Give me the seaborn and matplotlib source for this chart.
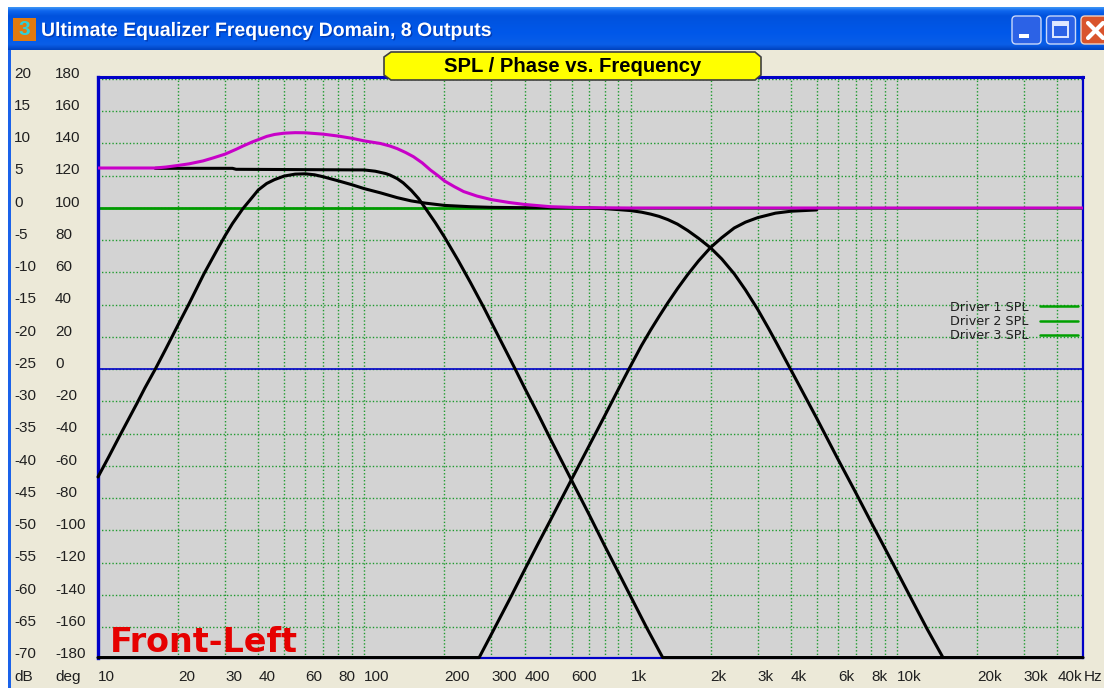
import matplotlib
matplotlib.use("Agg")
import matplotlib.pyplot as plt
import matplotlib.patheffects as pe
import numpy as np
import seaborn as sns
from matplotlib.colors import LinearSegmentedColormap
from matplotlib.lines import Line2D
from matplotlib.patches import FancyBboxPatch, Polygon, Rectangle
from matplotlib.transforms import blended_transform_factory

# values
db_ticks = [20, 15, 10, 5, 0, -5, -10, -15, -20, -25, -30, -35, -40, -45, -50, -55, -60, -65, -70]
deg_ticks = [180, 160, 140, 120, 100, 80, 60, 40, 20, 0, -20, -40, -60, -80, -100, -120, -140, -160, -180]

freq_labels = ["10", "20", "30", "40", "60", "80", "100", "200", "300", "400", "600",
               "1k", "2k", "3k", "4k", "6k", "8k", "10k", "20k", "30k", "40k"]
freq_label_pos = [10, 20, 30, 40, 60, 80, 100, 200, 300, 400, 600,
                  1000, 2000, 3000, 4000, 6000, 8000, 10000, 20000, 30000, 40000]
grid_freqs = [20, 30, 40, 50, 60, 70, 80, 90, 100, 200, 300, 400, 500, 600, 700, 800, 900,
              1000, 2000, 3000, 4000, 5000, 6000, 7000, 8000, 9000, 10000, 20000, 30000, 40000]

flat_freq = [10, 50000]
flat_db = [0, 0]

low_freq = [16.4, 32, 33, 100, 110, 120, 125, 133, 140, 150, 160, 170, 185, 200, 225, 250, 280, 320, 369,
            400, 450, 500, 600, 700, 800, 900, 1000, 1150, 1320, 50000]
low_db = [6.15, 6.15, 6.0, 5.9, 5.7, 5.35, 5.1, 4.55, 3.9, 2.75, 1.45, -0.1, -2.3, -4.5, -8.1, -11.5, -15.3, -20.0,
          -25, -27.9, -32, -35.8, -42.2, -47.6, -52.4, -56.5, -60.2, -65.1, -69.7, -69.7]

mid_freq = [10, 11, 12, 13, 14, 15, 16.4, 18, 20, 22, 25, 28, 30, 32, 35, 37, 40, 43, 46, 50, 55, 60, 65, 70,
            80, 90, 100, 115, 133, 150, 170, 200, 250, 300, 400, 700, 800, 900, 1000, 1100, 1190, 1280, 1380,
            1500, 1640, 1800, 2000, 2200, 2450, 2700, 3000, 3300, 3550, 4000, 5000, 6000, 7000, 8000, 9000,
            10000, 11600, 13000, 14900]
mid_db = [-41.7, -38.5, -35.5, -32.8, -30.3, -27.9, -25, -21.8, -18.1, -14.8, -10.2, -6.5, -4.3, -2.4, -0.1, 1.1,
          2.8, 3.8, 4.4, 4.95, 5.25, 5.3, 5.15, 4.85, 4.2, 3.6, 3.0, 2.35, 1.6, 1.1, 0.75, 0.4, 0.2, 0.1, 0.05,
          0, -0.1, -0.25, -0.4, -0.65, -0.95, -1.3, -1.8, -2.5, -3.5, -4.7, -6.2, -7.9, -10.2, -12.7, -15.7,
          -18.7, -21.1, -25.1, -32.6, -38.9, -44.1, -48.7, -52.7, -56.3, -61.4, -65.3, -69.7]

high_freq = [10, 270, 300, 350, 400, 450, 500, 600, 700, 800, 900, 985, 1100, 1190, 1280, 1380, 1500, 1640, 1800,
             2000, 2200, 2450, 2700, 3000, 3500, 4000, 5000]
high_db = [-69.7, -69.7, -66.1, -60.8, -56.1, -52, -48.4, -42.1, -36.8, -32.2, -28.1, -25, -21.3, -18.9, -16.8,
           -14.7, -12.5, -10.3, -8.2, -6.1, -4.6, -3.1, -2.2, -1.5, -0.8, -0.5, -0.3]

sum_freq = [10, 16.4, 18, 20, 22, 24.8, 27, 30, 33, 35, 38, 40, 43, 46, 50, 55, 60, 70, 80, 90, 100, 115, 125, 133,
            143, 153, 165, 177, 190, 200, 218, 236, 265, 300, 350, 400, 500, 600, 700, 1000, 50000]
sum_db = [6.2, 6.2, 6.35, 6.6, 6.85, 7.3, 7.75, 8.35, 9.1, 9.6, 10.25, 10.6, 11.1, 11.4, 11.6, 11.68, 11.66, 11.45,
          11.15, 10.8, 10.4, 10.0, 9.6, 9.2, 8.6, 7.95, 7.0, 5.9, 4.95, 4.2, 3.3, 2.55, 1.85, 1.3, 0.85, 0.55, 0.2,
          0.1, 0.05, 0, 0]

legend_labels = ["Driver 1 SPL", "Driver 2 SPL", "Driver 3 SPL"]

BEIGE = "#ece9d8"
GRID = "#1f9a2f"
BLUE = "#0000c8"
UI_FONT = ["Liberation Sans", "DejaVu Sans"]

sns.set_style("white")
plt.rcParams["font.family"] = UI_FONT

W, H = 1104, 688
fig = plt.figure(figsize=(W / 100, H / 100), dpi=100, facecolor="white")

# window chrome, in pixel coordinates
chrome = fig.add_axes([0, 0, 1, 1], zorder=0)
chrome.axis("off")
chrome.add_patch(Rectangle((8, 7), W - 8, H - 7, facecolor=BEIGE, edgecolor="none", zorder=0.1))
title_cmap = LinearSegmentedColormap.from_list(
    "xp", [(0, "#3d95f5"), (0.08, "#0f66ee"), (0.2, "#0052dd"), (0.6, "#0058ea"), (0.88, "#0a5ee8"), (1, "#0043c0")])
chrome.imshow(np.linspace(0, 1, 64).reshape(-1, 1), extent=[8, W, 50, 7], aspect="auto", cmap=title_cmap, zorder=0.2)
chrome.add_patch(Rectangle((8, 50), 2.5, H - 50, facecolor="#1a62ea", edgecolor="none"))
chrome.add_patch(Rectangle((13, 18), 23, 23, facecolor="#e07a10", edgecolor="none"))
chrome.text(24.5, 29.5, "3", color="#30d0d8", fontsize=15, fontweight="bold", ha="center", va="center")
chrome.text(41, 31.5, "Ultimate Equalizer Frequency Domain, 8 Outputs", color="white", fontsize=14,
            fontweight="bold", ha="left", va="center",
            path_effects=[pe.withSimplePatchShadow(offset=(1, -1), shadow_rgbFace="#0030a0", alpha=0.7)])

for bx, col, edge in [(1012, "#2c62e6", "#c9d8fa"), (1046.5, "#2c62e6", "#c9d8fa"), (1081, "#d9542c", "#f0d0c0")]:
    chrome.add_patch(FancyBboxPatch((bx, 16), 29, 28, boxstyle="round,pad=0,rounding_size=4",
                                    facecolor=col, edgecolor=edge, linewidth=1))
chrome.add_patch(Rectangle((1019, 34), 10, 4, facecolor="white", edgecolor="none"))
chrome.add_patch(Rectangle((1053, 22), 15, 15, facecolor="none", edgecolor="#dfe8ff", linewidth=1.4))
chrome.add_patch(Rectangle((1053, 22), 15, 3.5, facecolor="#dfe8ff", edgecolor="none"))
chrome.plot([1088, 1103], [23, 38], color="white", lw=3)
chrome.plot([1088, 1103], [38, 23], color="white", lw=3)
chrome.set_xlim(0, W)
chrome.set_ylim(H, 0)

# plot area
left, right, top, bottom = 98, 1083, 77, 658
ax = fig.add_axes([left / W, 1 - bottom / H, (right - left) / W, (bottom - top) / H], zorder=1)
ax.set_facecolor("#d3d3d3")
ax.set_xscale("log")
ax.set_xlim(10, 50000)
ax.set_ylim(-69.77, 20.31)
ax.set_xticks(grid_freqs)
ax.set_xticks([], minor=True)
ax.set_yticks(db_ticks[:-1])
ax.tick_params(length=0, labelbottom=False, labelleft=False)
ax.grid(True, color=GRID, linewidth=1.0, linestyle=(0, (1, 1.5)))
ax.set_axisbelow(True)
for side, lw in [("left", 2.4), ("top", 2.2), ("right", 1.6), ("bottom", 1.6)]:
    ax.spines[side].set_visible(True)
    ax.spines[side].set_color(BLUE)
    ax.spines[side].set_linewidth(lw)

ax.axhline(-25, color=BLUE, linewidth=1.2, zorder=1.5)
sns.lineplot(x=flat_freq, y=flat_db, color="#009a00", linewidth=2.0, ax=ax, estimator=None, sort=False, zorder=2)
for fr, db in [(low_freq, low_db), (mid_freq, mid_db), (high_freq, high_db)]:
    sns.lineplot(x=fr, y=db, color="black", linewidth=2.2, ax=ax, estimator=None, sort=False, zorder=3, clip_on=False)
sns.lineplot(x=sum_freq, y=sum_db, color="#c800c8", linewidth=2.2, ax=ax, estimator=None, sort=False, zorder=4)

handles = [Line2D([], [], color="#00a000", linewidth=1.8) for _ in legend_labels]
leg = ax.legend(handles, legend_labels, loc="center right", bbox_to_anchor=(1078, 321.5),
                bbox_transform=chrome.transData, frameon=False, markerfirst=False, fontsize=9.2,
                handlelength=3.0, handletextpad=0.85, labelspacing=0.1, borderpad=0, borderaxespad=0)
for t in leg.get_texts():
    t.set_color("#202020")
    t.set_family("DejaVu Sans")

ax.text(110, 642, "Front-Left", transform=chrome.transData, color="#e60000", fontsize=24, fontweight="bold",
        family="DejaVu Sans", va="center", ha="left", clip_on=False)

# axis captions sit in the beige margin
ylab = blended_transform_factory(chrome.transData, ax.transData)
for db, deg in zip(db_ticks, deg_ticks):
    ax.text(14, db + 0.85, str(db), transform=ylab, fontsize=11, color="#202020", ha="left", va="center", clip_on=False)
    ax.text(55, db + 0.85, str(deg), transform=ylab, fontsize=11, color="#202020", ha="left", va="center", clip_on=False)
xlab = blended_transform_factory(ax.transData, chrome.transData)
for fr, lab in zip(freq_label_pos, freq_labels):
    ax.text(fr, 677, lab, transform=xlab, fontsize=11, color="#202020", ha="left", va="center", clip_on=False)
chrome.text(14, 677, "dB", fontsize=11, color="#202020", ha="left", va="center")
chrome.text(55, 677, "deg", fontsize=11, color="#202020", ha="left", va="center")
chrome.text(1084, 677, "Hz", fontsize=11, color="#202020", ha="left", va="center")

# yellow caption plate overlapping the top border
over = fig.add_axes([0, 0, 1, 1], zorder=2)
over.axis("off")
over.patch.set_alpha(0)
over.set_xlim(0, W)
over.set_ylim(H, 0)
over.add_patch(Polygon([(391, 52), (755, 52), (761, 57), (761, 75), (755, 80), (391, 80), (384, 75), (384, 57)],
                       closed=True, facecolor="#ffff00", edgecolor="#404040", linewidth=1.2))
over.text(573, 67, "SPL / Phase vs. Frequency", fontsize=14.6, fontweight="bold", color="black",
          ha="center", va="center")

fig.savefig("out.png", dpi=100)
